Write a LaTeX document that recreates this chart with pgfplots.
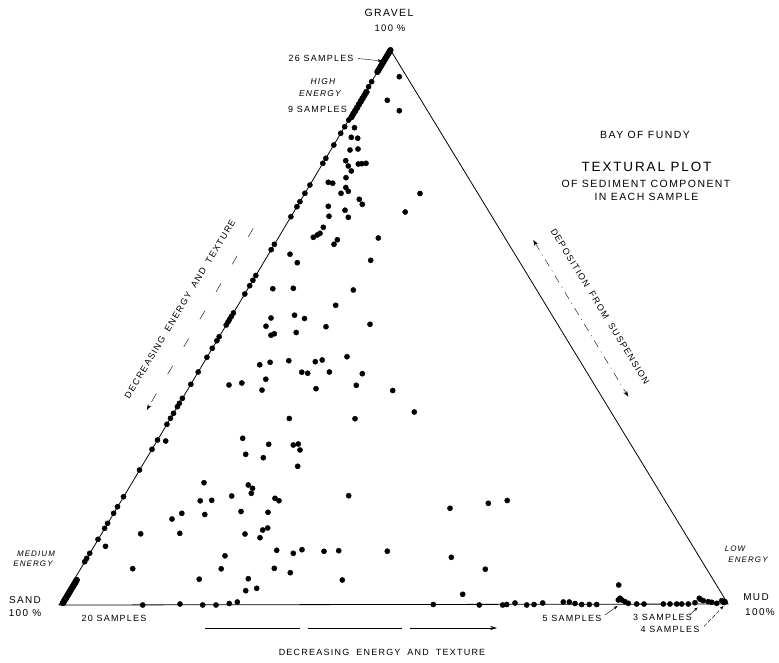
\documentclass[border=0pt]{standalone}
\usepackage{fontspec}
\setmainfont[LetterSpace=14]{Liberation Sans}
\usepackage{pgfplots}
\pgfplotsset{compat=1.18}
\usetikzlibrary{arrows.meta}
\newcommand{\fs}[1]{\fontsize{#1}{#1}\selectfont}
\newcommand{\ws}{\hspace{7pt}}
\begin{document}
\begin{tikzpicture}
\useasboundingbox (0,0) rectangle (779bp,663bp);
\begin{axis}[at={(0,0)},anchor=south west,scale only axis,width=779bp,height=663bp,
  xmin=0,xmax=779,ymin=0,ymax=663,y dir=reverse,hide axis,clip=false]
% triangle
\addplot[black,line width=0.8pt,mark=none] coordinates {(390.5,50) (59,605) (728,604) (390.5,50)};
% 26 samples near gravel apex
\addplot[only marks,mark=*,mark size=2.8,black] coordinates {
(390.5,50.0)(389.96,50.9)(389.42,51.8)(388.95,52.6)(388.41,53.5)(387.87,54.4)(387.33,55.3)
(386.79,56.2)(386.32,57.0)(385.78,57.9)(385.24,58.8)(384.70,59.7)(384.16,60.6)(383.68,61.4)
(383.15,62.3)(382.61,63.2)(382.07,64.1)(381.53,65.0)(381.06,65.8)(380.52,66.7)(379.98,67.6)
(379.44,68.5)(378.90,69.4)(378.43,70.2)(377.89,71.1)(377.35,72.0)};
% 9 samples
\addplot[only marks,mark=*,mark size=3,black] coordinates {
(366.4,92)(364.5,95.1)(362.6,98.3)(360.8,101.4)(358.9,104.5)(357.1,107.6)(355.2,110.8)(353.3,113.9)(351.5,117)};
% 20 samples near sand vertex
\addplot[only marks,mark=*,mark size=3,black] coordinates {
(76.7,580)(76.0,581.2)(75.3,582.4)(74.6,583.6)(73.9,584.8)(73.1,586.1)(72.4,587.3)(71.6,588.5)
(70.9,589.7)(70.2,590.9)(69.5,592.1)(68.8,593.3)(68.1,594.5)(67.3,595.7)(66.6,596.9)(65.8,598.2)
(65.1,599.4)(64.4,600.6)(63.7,601.8)(63.0,603)};
% samples on the gravel-sand side
\addplot[only marks,mark=*,mark size=2.6,black] coordinates {
(371.6,81.7)(368.6,86.7)(348.7,120)(344.7,126.7)(340.7,133.3)(333.8,145)(325.8,158.3)(322.8,163.3)
(309.9,185)(304.9,193.3)(299.9,201.7)(296.9,206.7)(290.9,216.7)(274.4,244.3)(271.2,249.7)
(255.8,275.5)(252.9,280.3)(249.7,285.7)(244.8,294)(233.4,313)(231.3,316.5)(229.5,319.5)(228.0,322)
(226.2,325)(219.2,336.7)(216.9,340.7)(212.3,348.3)(206.9,357.3)(198.2,372)(190.8,384.3)(182.4,398.3)
(179.4,403.3)(177.4,406.7)(173.5,413.3)(170.5,418.3)(166.9,424.3)(157.5,440)(152.0,449.3)(139.5,470)
(123.5,496.7)(117.5,506.7)(113.6,513.3)(107.6,523.3)(104.6,528.3)(98.0,539.3)(89.7,553.3)(86.7,558.3)(84.7,561.7)};
% samples on the sand-mud side
\addplot[only marks,mark=*,mark size=2.6,black] coordinates {
(142.7,605)(180,604)(202.7,605)(216,605)(229.3,603.5)(237.3,602)(433.3,604.5)(479.3,605)
(502.7,605)(506.7,604.5)(515,603)(526.7,605)(534,604.5)(542.7,603)(563.3,602)(569.3,602)(575,603.5)
(581.7,604.5)(589.3,604.5)(596.7,604.5)
(618.3,600)(620,598.3)(622,600)(625,601.7)(628.3,603.3)
(636.7,604)(644,604)(663.3,604)(670,604)(676.7,604)(681.7,604)(688.3,604)(695,602.7)
(699.3,598.3)(700.5,599.5)(703.3,600.7)(708.3,601.7)(711.7,602.3)(716.7,603.3)
(721.7,600.7)(723,601.5)(724,602.5)(725,601.7)};
% interior samples
\addplot[only marks,mark=*,mark size=2.6,black] coordinates {
(399.3,76.7)(387.3,100.3)(399.3,110.7)(354.5,127.7)(351.3,137.3)(357.7,138.2)(350,150)(358,149)
(345.7,160.7)(348.3,166)(351.3,171)(358.3,164)(361.7,163.7)(366,163.3)(346,177.7)(328.3,182.3)(332.7,183.2)
(345.8,187.5)(348.3,191.3)(341,193.3)(420,193.5)(359.3,199.3)(362.3,204.3)(405.2,212)(328.3,206.3)(329,216.2)
(345,210.2)(348.3,217.3)(378.3,238)(337.3,239.8)(334,244.3)(323.3,227.3)(320,233.3)(317.3,235)(313.3,237.3)
(370.7,260.3)(290,254.2)(297.3,262.7)(272.8,288.7)(293.3,288.3)(353.3,290)(335.7,305.3)
(271,318)(266,326.2)(271,335.2)(274.3,333.8)(294.5,315.2)(304.5,318.5)(296.2,332.5)(326,326.7)(370,324.3)
(259.7,364.8)(270.1,362.3)(288.8,360.7)(315.3,361.7)(322.2,360)(347,356.7)(301.8,372.2)(307.7,373.2)
(329.4,372)(362.3,373.7)(265.8,379.2)(229,385)(241.8,383)(262,390.1)(316,388.7)(356.3,385.3)(392.7,390.5)
(414.3,412)(289.3,418.5)(355,418.7)(165.7,441)(242.7,438.3)(268.7,444.3)(293.3,445)(298.3,444)(300,450)
(245.7,454.3)(263.3,457.7)(297.7,466.3)(204,482.7)(248.3,485)(252.5,488.3)(251.3,493.3)(231.7,496)
(200.2,500.8)(211.7,500.3)(275,498.3)(279,500.7)(348.7,495.7)(181.8,513.3)(172,519)(204.8,514.5)(241,511.5)
(268,512.3)(140.7,533.8)(179.8,533.3)(245,534)(262.7,530)(267.7,528)(260,537.7)(105.5,546.3)
(276.7,550.3)(293.3,553.3)(302,549.7)(324,551.3)(338.7,550.7)(387.3,551.2)(225,555.8)(221.2,568.8)
(132.7,568.7)(274.3,568.3)(290.3,572.7)(199.2,579.2)(248.3,578.7)(342.3,580)(245.7,590.7)(256.7,588.3)
(450,508.3)(488.3,503.3)(507.2,500.5)(451.3,557.3)(485.3,569.2)(462.7,594.3)(618.7,585)};
% labels
\node[font=\fs{10.5}] at (axis cs:389,13) {GRAVEL};
\node[font=\fs{9.5}] at (axis cs:390,28) {100 \%};
\node[font=\fs{9},anchor=east] at (axis cs:357,58) {26 SAMPLES};
\draw[-{Stealth[length=4pt,width=3pt]},thin] (axis cs:358,58.5) -- (axis cs:382,61);
\node[font=\fs{8.5}\itshape] at (axis cs:323,82) {HIGH};
\node[font=\fs{8.5}\itshape] at (axis cs:320,93.5) {ENERGY};
\node[font=\fs{9}] at (axis cs:317.5,109.5) {9 SAMPLES};
\node[font=\fs{10.5}] at (axis cs:645,135) {BAY OF FUNDY};
\node[font=\fs{13.5}] at (axis cs:646.5,167) {TEXTURAL PLOT};
\node[font=\fs{10.5}] at (axis cs:646,183.5) {OF SEDIMENT COMPONENT};
\node[font=\fs{10.5}] at (axis cs:646.5,197) {IN EACH SAMPLE};
% left side label
\node[font=\fs{9},rotate=59] at (axis cs:180,309) {DECREASING\ws ENERGY\ws AND\ws TEXTURE};
\draw[line width=0.4pt,dash pattern=on 10pt off 22pt,-{Stealth[length=6pt,width=4pt]}] (axis cs:253.3,228.3) -- (axis cs:146.7,410);
% right side label
\node[font=\fs{9},rotate=-58.6] at (axis cs:600,306.7) {DEPOSITION\ws FROM\ws SUSPENSION};
\draw[line width=0.4pt,dash pattern=on 8pt off 5pt on 1pt off 5pt,{Stealth[length=6pt,width=4pt]}-{Stealth[length=6pt,width=4pt]}] (axis cs:533.3,240) -- (axis cs:628.3,396.7);
% corners
\node[font=\fs{8}\itshape] at (axis cs:36,553.5) {MEDIUM};
\node[font=\fs{8}\itshape] at (axis cs:33,564) {ENERGY};
\node[font=\fs{10}] at (axis cs:25,600.5) {SAND};
\node[font=\fs{10}] at (axis cs:25,613) {100 \%};
\node[font=\fs{9}] at (axis cs:114,618.5) {20 SAMPLES};
\node[font=\fs{8}\itshape] at (axis cs:735,548.5) {LOW};
\node[font=\fs{8}\itshape] at (axis cs:748,559.5) {ENERGY};
\node[font=\fs{10}] at (axis cs:756,597) {MUD};
\node[font=\fs{10}] at (axis cs:760,612) {100\%};
\node[font=\fs{9}] at (axis cs:572,618.5) {5 SAMPLES};
\draw[-{Stealth[length=4pt,width=3pt]},thin] (axis cs:605,615) -- (axis cs:617.5,606);
\node[font=\fs{9}] at (axis cs:662.5,617.5) {3 SAMPLES};
\draw[-{Stealth[length=4pt,width=3pt]},thin] (axis cs:689.5,615) -- (axis cs:697.5,607.5);
\node[font=\fs{9}] at (axis cs:670,629.5) {4 SAMPLES};
\draw[-{Stealth[length=4pt,width=3pt]},thin,dash pattern=on 4pt off 2pt] (axis cs:704,626.5) -- (axis cs:723.5,606);
% bottom label
\draw[line width=0.5pt,dash pattern=on 95pt off 8pt,-{Stealth[length=7pt,width=4pt]}] (axis cs:205,628) -- (axis cs:497,628);
\node[font=\fs{9}] at (axis cs:382,652) {DECREASING\ws ENERGY\ws AND\ws TEXTURE};
\end{axis}
\end{tikzpicture}
\end{document}
